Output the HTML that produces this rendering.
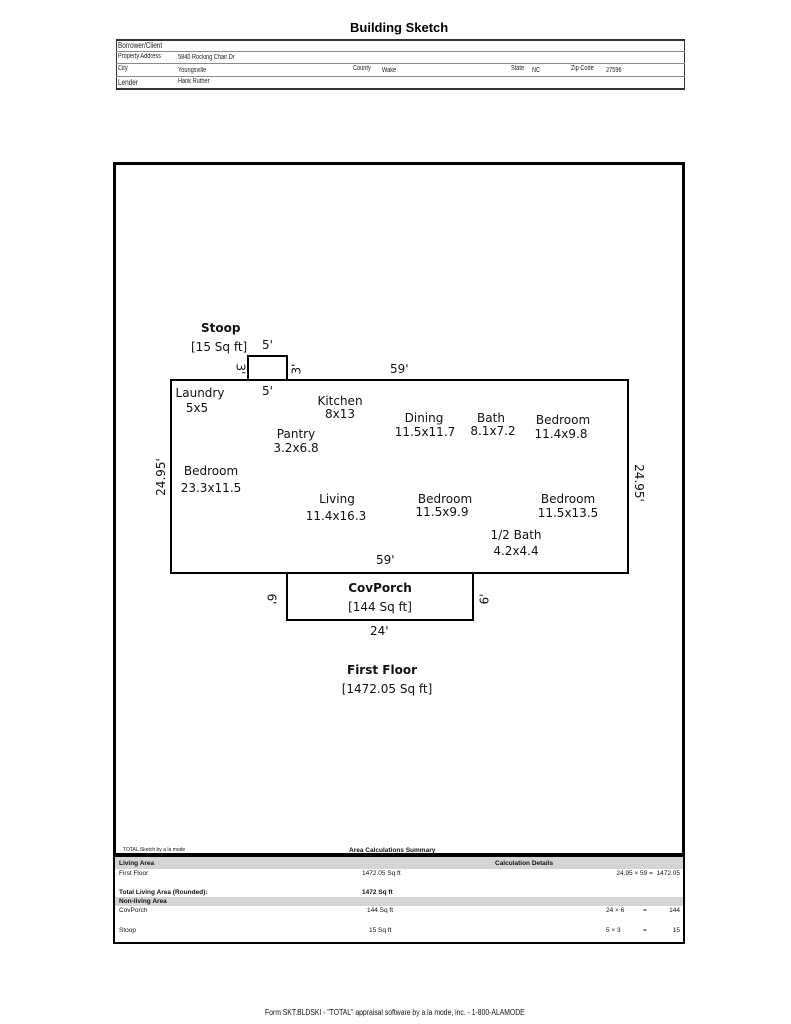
<!DOCTYPE html>
<html><head><meta charset="utf-8"><style>
body{margin:0;width:791px;height:1024px;background:#fff;position:relative;font-family:"DejaVu Sans","Liberation Sans",sans-serif;overflow:hidden}
.a{position:absolute;white-space:nowrap}
.s{font-family:"Liberation Sans",sans-serif;font-size:7px;color:#222;transform:scaleX(.8);transform-origin:left}
.t{font-size:12px;color:#111}
.c{text-align:center;transform:translateX(-50%)}
.tb{font-family:"Liberation Sans",sans-serif;font-size:6.5px;color:#111}
.r{text-align:right}
</style></head><body>
<div class="a" style="left:350px;top:20px;font-family:'Liberation Sans',sans-serif;font-weight:bold;font-size:13px">Building Sketch</div>
<div class="a" style="left:116px;top:39px;width:567px;height:47px;border:1px solid #333;border-top-width:2px;border-bottom-width:2px"></div>
<div class="a" style="left:116px;top:51px;width:569px;border-top:1px solid #888"></div>
<div class="a" style="left:116px;top:63px;width:569px;border-top:1px solid #888"></div>
<div class="a" style="left:116px;top:76px;width:569px;border-top:1px solid #888"></div>
<div class="a s" style="left:118px;top:41px;font-size:8px">Borrower/Client</div>
<div class="a s" style="left:118px;top:53px">Property Address</div>
<div class="a s" style="left:178px;top:54px">5840 Rocking Chair Dr</div>
<div class="a s" style="left:118px;top:65px">City</div>
<div class="a s" style="left:178px;top:67px">Youngsville</div>
<div class="a s" style="left:353px;top:65px">County</div>
<div class="a s" style="left:382px;top:67px">Wake</div>
<div class="a s" style="left:511px;top:65px">State</div>
<div class="a s" style="left:532px;top:67px">NC</div>
<div class="a s" style="left:571px;top:65px">Zip Code</div>
<div class="a s" style="left:606px;top:67px">27596</div>
<div class="a s" style="left:118px;top:78px;font-size:8px">Lender</div>
<div class="a s" style="left:178px;top:78px">Hank Ruther</div>

<div class="a" style="left:113px;top:162px;width:566px;height:688px;border:3px solid #000"></div>
<div class="a" style="left:113px;top:855px;width:568px;height:85px;border:2px solid #000"></div>
<div class="a" style="left:115px;top:857px;width:568px;height:12px;background:#d4d4d4"></div>
<div class="a" style="left:115px;top:897px;width:568px;height:9px;background:#d4d4d4"></div>
<div class="a tb" style="left:123px;top:847px;font-size:5px">TOTAL Sketch by a la mode</div>
<div class="a tb" style="left:349px;top:847px;font-weight:bold">Area Calculations Summary</div>
<div class="a tb" style="left:119px;top:860px;font-weight:bold">Living Area</div>
<div class="a tb" style="left:495px;top:860px;font-weight:bold">Calculation Details</div>
<div class="a tb" style="left:119px;top:870px">First Floor</div>
<div class="a tb" style="left:362px;top:870px">1472.05 Sq ft</div>
<div class="a tb r" style="left:580px;width:100px;top:870px">24.95 × 59 =&nbsp; 1472.05</div>
<div class="a tb" style="left:119px;top:889px;font-weight:bold">Total Living Area (Rounded):</div>
<div class="a tb" style="left:362px;top:889px;font-weight:bold">1472 Sq ft</div>
<div class="a tb" style="left:119px;top:898px;font-weight:bold">Non-living Area</div>
<div class="a tb" style="left:119px;top:907px">CovPorch</div>
<div class="a tb" style="left:367px;top:907px">144 Sq ft</div>
<div class="a tb" style="left:606px;top:907px">24 × 6</div>
<div class="a tb" style="left:643px;top:907px">=</div>
<div class="a tb r" style="left:650px;width:30px;top:907px">144</div>
<div class="a tb" style="left:119px;top:927px">Stoop</div>
<div class="a tb" style="left:369px;top:927px">15 Sq ft</div>
<div class="a tb" style="left:606px;top:927px">5 × 3</div>
<div class="a tb" style="left:643px;top:927px">=</div>
<div class="a tb r" style="left:650px;width:30px;top:927px">15</div>

<svg class="a" style="left:0;top:0" width="791" height="1024">
<g fill="none" stroke="#000" stroke-width="2">
<rect x="248" y="356" width="39" height="24"/>
<rect x="171" y="380" width="457" height="193"/>
<rect x="287" y="573" width="186" height="47"/>
</g></svg>

<div class="a t" style="left:201px;top:321px;font-weight:bold">Stoop</div>
<div class="a t" style="left:191px;top:340px">[15 Sq ft]</div>
<div class="a t" style="left:262px;top:338px">5'</div>
<div class="a t" style="left:262px;top:384px">5'</div>
<div class="a t" style="left:235px;top:362px;transform:rotate(90deg)">3'</div>
<div class="a t" style="left:291px;top:362px;transform:rotate(-90deg)">3'</div>
<div class="a t" style="left:390px;top:362px">59'</div>
<div class="a t" style="left:376px;top:553px">59'</div>
<div class="a t" style="left:142px;top:470px;transform:rotate(-90deg)">24.95'</div>
<div class="a t" style="left:620px;top:476px;transform:rotate(90deg)">24.95'</div>
<div class="a t" style="left:266px;top:592px;transform:rotate(90deg)">6'</div>
<div class="a t" style="left:479px;top:592px;transform:rotate(-90deg)">6'</div>
<div class="a t" style="left:370px;top:624px">24'</div>
<div class="a t c" style="left:380px;top:581px;font-weight:bold">CovPorch</div>
<div class="a t c" style="left:380px;top:600px">[144 Sq ft]</div>
<div class="a t c" style="left:382px;top:663px;font-weight:bold">First Floor</div>
<div class="a t c" style="left:387px;top:682px">[1472.05 Sq ft]</div>

<div class="a t c" style="left:200px;top:386px">Laundry</div>
<div class="a t c" style="left:197px;top:401px">5x5</div>
<div class="a t c" style="left:340px;top:394px">Kitchen</div>
<div class="a t c" style="left:340px;top:407px">8x13</div>
<div class="a t c" style="left:296px;top:427px">Pantry</div>
<div class="a t c" style="left:296px;top:441px">3.2x6.8</div>
<div class="a t c" style="left:424px;top:411px">Dining</div>
<div class="a t c" style="left:425px;top:425px">11.5x11.7</div>
<div class="a t c" style="left:491px;top:411px">Bath</div>
<div class="a t c" style="left:493px;top:424px">8.1x7.2</div>
<div class="a t c" style="left:563px;top:413px">Bedroom</div>
<div class="a t c" style="left:561px;top:427px">11.4x9.8</div>
<div class="a t c" style="left:211px;top:464px">Bedroom</div>
<div class="a t c" style="left:211px;top:481px">23.3x11.5</div>
<div class="a t c" style="left:337px;top:492px">Living</div>
<div class="a t c" style="left:336px;top:509px">11.4x16.3</div>
<div class="a t c" style="left:445px;top:492px">Bedroom</div>
<div class="a t c" style="left:442px;top:505px">11.5x9.9</div>
<div class="a t c" style="left:568px;top:492px">Bedroom</div>
<div class="a t c" style="left:568px;top:506px">11.5x13.5</div>
<div class="a t c" style="left:516px;top:528px">1/2 Bath</div>
<div class="a t c" style="left:516px;top:544px">4.2x4.4</div>

<div class="a tb" style="left:265px;top:1008px;font-size:8px;transform:scaleX(.85);transform-origin:left">Form SKT.BLDSKI - "TOTAL" appraisal software by a la mode, inc. - 1-800-ALAMODE</div>
</body></html>
